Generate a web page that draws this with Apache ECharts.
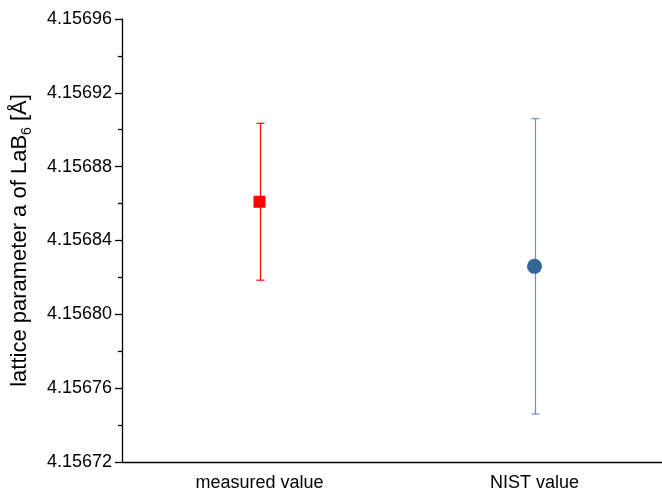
<!DOCTYPE html>
<html>
<head>
<meta charset="utf-8">
<script src="https://cdn.jsdelivr.net/npm/echarts@6/dist/echarts.min.js"></script>
<style>
  html, body { margin: 0; padding: 0; background: #fff; }
  #chart { width: 662px; height: 492px; }
</style>
</head>
<body>
<div id="chart"></div>
<script>
// Lattice parameter of LaB6: own measurement vs. NIST reference
const categories = ['measured value', 'NIST value'];
const values = [4.156861, 4.156826];
const errors = [0.0000425, 0.00008];
const yMin = 4.15672, yMax = 4.15696, yStep = 0.00004;

const FONT = "'Liberation Sans', Arial, sans-serif";
const colors = ['#ff0000', '#336699'];
const barColors = ['#ff0000', '#6a92c0'];

const chart = echarts.init(document.getElementById('chart'), null, { renderer: 'canvas' });

const errData = categories.map((c, i) => [i, values[i] - errors[i], values[i] + errors[i]]);

chart.setOption({
  animation: false,
  backgroundColor: '#ffffff',
  grid: { left: 122, top: 19, bottom: 30, width: 550, containLabel: false, outerBoundsMode: 'none' },
  xAxis: [{
    type: 'category',
    data: categories,
    boundaryGap: true,
    position: 'bottom',
    axisLine: { lineStyle: { color: '#000', width: 1.3 } },
    axisTick: { alignWithLabel: true, length: 7, lineStyle: { color: '#000', width: 1.3 } },
    axisLabel: { color: '#000', fontFamily: FONT, fontSize: 18, margin: 12 }
  }, {
    // short ticks on the category boundaries
    type: 'category',
    data: categories,
    boundaryGap: true,
    position: 'bottom',
    axisLine: { show: false },
    axisTick: { length: 4, lineStyle: { color: '#000', width: 1.3 } },
    axisLabel: { show: false }
  }],
  yAxis: {
    type: 'value',
    min: yMin,
    max: yMax,
    interval: yStep,
    name: '{t|lattice parameter a of LaB}{s|6}{t| [Å]}',
    nameLocation: 'middle',
    nameGap: 88,
    nameRotate: 90,
    nameTextStyle: {
      rich: {
        t: { fontFamily: FONT, fontSize: 22, lineHeight: 28, color: '#000' },
        s: { fontFamily: FONT, fontSize: 14, lineHeight: 14, verticalAlign: 'bottom', color: '#000' }
      }
    },
    axisLine: { show: true, lineStyle: { color: '#000', width: 1.3 } },
    axisTick: { show: true, length: 7, lineStyle: { color: '#000', width: 1.3 } },
    minorTick: { show: true, splitNumber: 2, length: 4, lineStyle: { color: '#000', width: 1.3 } },
    splitLine: { show: false },
    axisLabel: {
      color: '#000', fontFamily: FONT, fontSize: 18, margin: 10,
      formatter: v => v.toFixed(5)
    }
  },
  series: [{
    type: 'custom',
    xAxisIndex: 0,
    data: errData,
    z: 1,
    renderItem: (params, api) => {
      const i = api.value(0);
      const lo = api.coord([i, api.value(1)]);
      const hi = api.coord([i, api.value(2)]);
      const x = Math.round(lo[0]) + 0.5;
      const half = 4;
      const mk = () => ({ stroke: barColors[i], lineWidth: 1.2, fill: null });
      return {
        type: 'group',
        children: [
          { type: 'line', shape: { x1: x, y1: hi[1], x2: x, y2: lo[1] }, style: mk() },
          { type: 'line', shape: { x1: x - half, y1: hi[1], x2: x + half, y2: hi[1] }, style: mk() },
          { type: 'line', shape: { x1: x - half, y1: lo[1], x2: x + half, y2: lo[1] }, style: mk() }
        ]
      };
    }
  }, {
    type: 'scatter',
    xAxisIndex: 0,
    z: 3,
    itemStyle: { opacity: 1 },
    data: [
      { value: [0, values[0]], symbol: 'rect', symbolSize: 12, itemStyle: { color: colors[0], opacity: 1 } },
      { value: [1, values[1]], symbol: 'circle', symbolSize: 15, itemStyle: { color: colors[1], opacity: 1 } }
    ]
  }]
});
</script>
</body>
</html>
